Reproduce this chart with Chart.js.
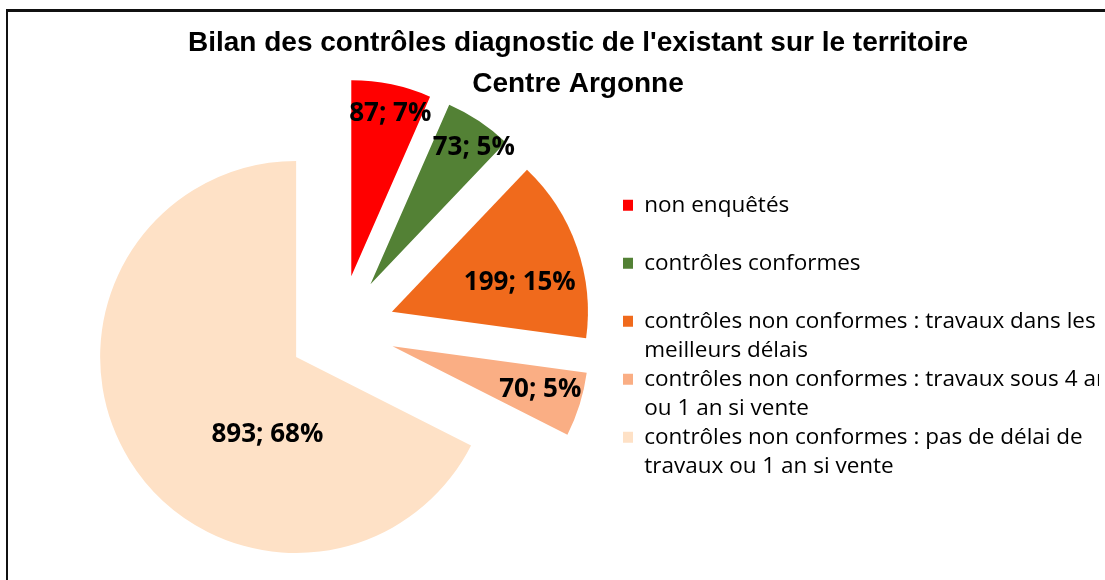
<!DOCTYPE html>
<html>
<head>
<meta charset="utf-8">
<script src="https://cdn.jsdelivr.net/npm/chart.js@4.4.1/dist/chart.umd.min.js"></script>
<style>
  body { margin: 0; background: #fff; }
  #wrap { width: 1105px; height: 580px; }
</style>
</head>
<body>
<div id="wrap"><canvas id="myPie"></canvas></div>
<script>
const titleLines = ["Bilan des contrôles diagnostic de l'existant sur le territoire", "Centre Argonne"];
const categories = [
  ["non enquêtés"],
  ["contrôles conformes"],
  ["contrôles non conformes : travaux dans les", "meilleurs délais"],
  ["contrôles non conformes : travaux sous 4 ans", "ou 1 an si vente"],
  ["contrôles non conformes : pas de délai de", "travaux ou 1 an si vente"]
];
const counts = [87, 73, 199, 70, 893];
const percents = [7, 5, 15, 5, 68];
const sliceColors = ["#ff0000", "#538135", "#f06a1c", "#faae84", "#fee1c6"];

// how far each slice is pulled out (chart.js moves it by offset/4)
const sliceOffsets = [220, 220, 220, 220, 206];
// where each "n; p%" label sits: share of radius from the slice tip, and angle shift (deg)
const labelDist = [0.855, 0.875, 0.67, 0.785, 0.42];
const labelShift = [1.6, 3.4, 6.3, -1.1, -38];

// black frame, top and left only (the rest is cut off in the original)
const frame = {
  id: 'frame',
  beforeDraw(chart) {
    const ctx = chart.ctx;
    ctx.save();
    ctx.fillStyle = '#111';
    ctx.fillRect(6, 9, chart.width - 6, 3);
    ctx.fillRect(6, 9, 2, chart.height - 9);
    ctx.restore();
  }
};

// pulled-out slices grow and narrow in chart.js, keep them the plain size
const keepRadius = {
  id: 'keepRadius',
  afterDatasetUpdate(chart, args) {
    args.meta.data.forEach(arc => {
      const push = (arc.options.offset || 0) / 4;
      const fix = 1 - Math.sin(Math.min(Math.PI, arc.circumference));
      const grow = push * fix;
      const R = arc.outerRadius;
      arc.outerRadius = R - grow;
      const w = grow / (2 * Math.PI * R);
      arc.startAngle -= w;
      arc.endAngle += w;
    });
  }
};

const sliceLabels = {
  id: 'sliceLabels',
  afterDatasetsDraw(chart) {
    const ctx = chart.ctx;
    const meta = chart.getDatasetMeta(0);
    const R = meta.controller.outerRadius;
    ctx.save();
    ctx.font = "bold 26px 'Open Sans', sans-serif";
    ctx.fillStyle = '#000';
    ctx.textAlign = 'center';
    ctx.textBaseline = 'middle';
    meta.data.forEach((arc, i) => {
      const mid = (arc.startAngle + arc.endAngle) / 2;
      const push = (arc.options.offset || 0) / 4;
      const ang = mid + labelShift[i] * Math.PI / 180;
      const x = arc.x + Math.cos(mid) * push + Math.cos(ang) * R * labelDist[i];
      const y = arc.y + Math.sin(mid) * push + Math.sin(ang) * R * labelDist[i];
      ctx.fillText(counts[i] + '; ' + percents[i] + '%', x, y);
    });
    ctx.restore();
  }
};

new Chart('myPie', {
  type: 'pie',
  data: {
    labels: categories,
    datasets: [{
      data: counts,
      backgroundColor: sliceColors,
      borderWidth: 0,
      offset: sliceOffsets,
      radius: 196
    }]
  },
  options: {
    responsive: true,
    maintainAspectRatio: false,
    animation: false,
    layout: { padding: { left: 57, right: 6, top: 0, bottom: 25 } },
    plugins: {
      tooltip: { enabled: false },
      title: {
        display: true,
        text: titleLines,
        color: '#000',
        font: { family: "'Liberation Sans', Arial, sans-serif", size: 28, weight: 'bold', lineHeight: '41px' },
        padding: { top: 23, bottom: 0 }
      },
      legend: {
        position: 'right',
        align: 'start',
        fullSize: false,
        maxWidth: 476,
        title: { display: true, text: ' ', padding: 0, font: { size: 12, lineHeight: '89px' } },
        labels: {
          boxWidth: 10,
          boxHeight: 11,
          padding: 0,
          color: '#000',
          font: { family: "'Open Sans', sans-serif", size: 22.5, lineHeight: '29px' },
          generateLabels(chart) {
            const ds = chart.data.datasets[0];
            return chart.data.labels.map((lines, i) => ({
              text: lines.length > 1 ? lines : [lines[0], ''],
              fillStyle: ds.backgroundColor[i],
              strokeStyle: ds.backgroundColor[i],
              lineWidth: 0,
              hidden: false,
              index: i,
              fontColor: '#000'
            }));
          }
        }
      }
    }
  },
  plugins: [frame, keepRadius, sliceLabels]
});
</script>
</body>
</html>
